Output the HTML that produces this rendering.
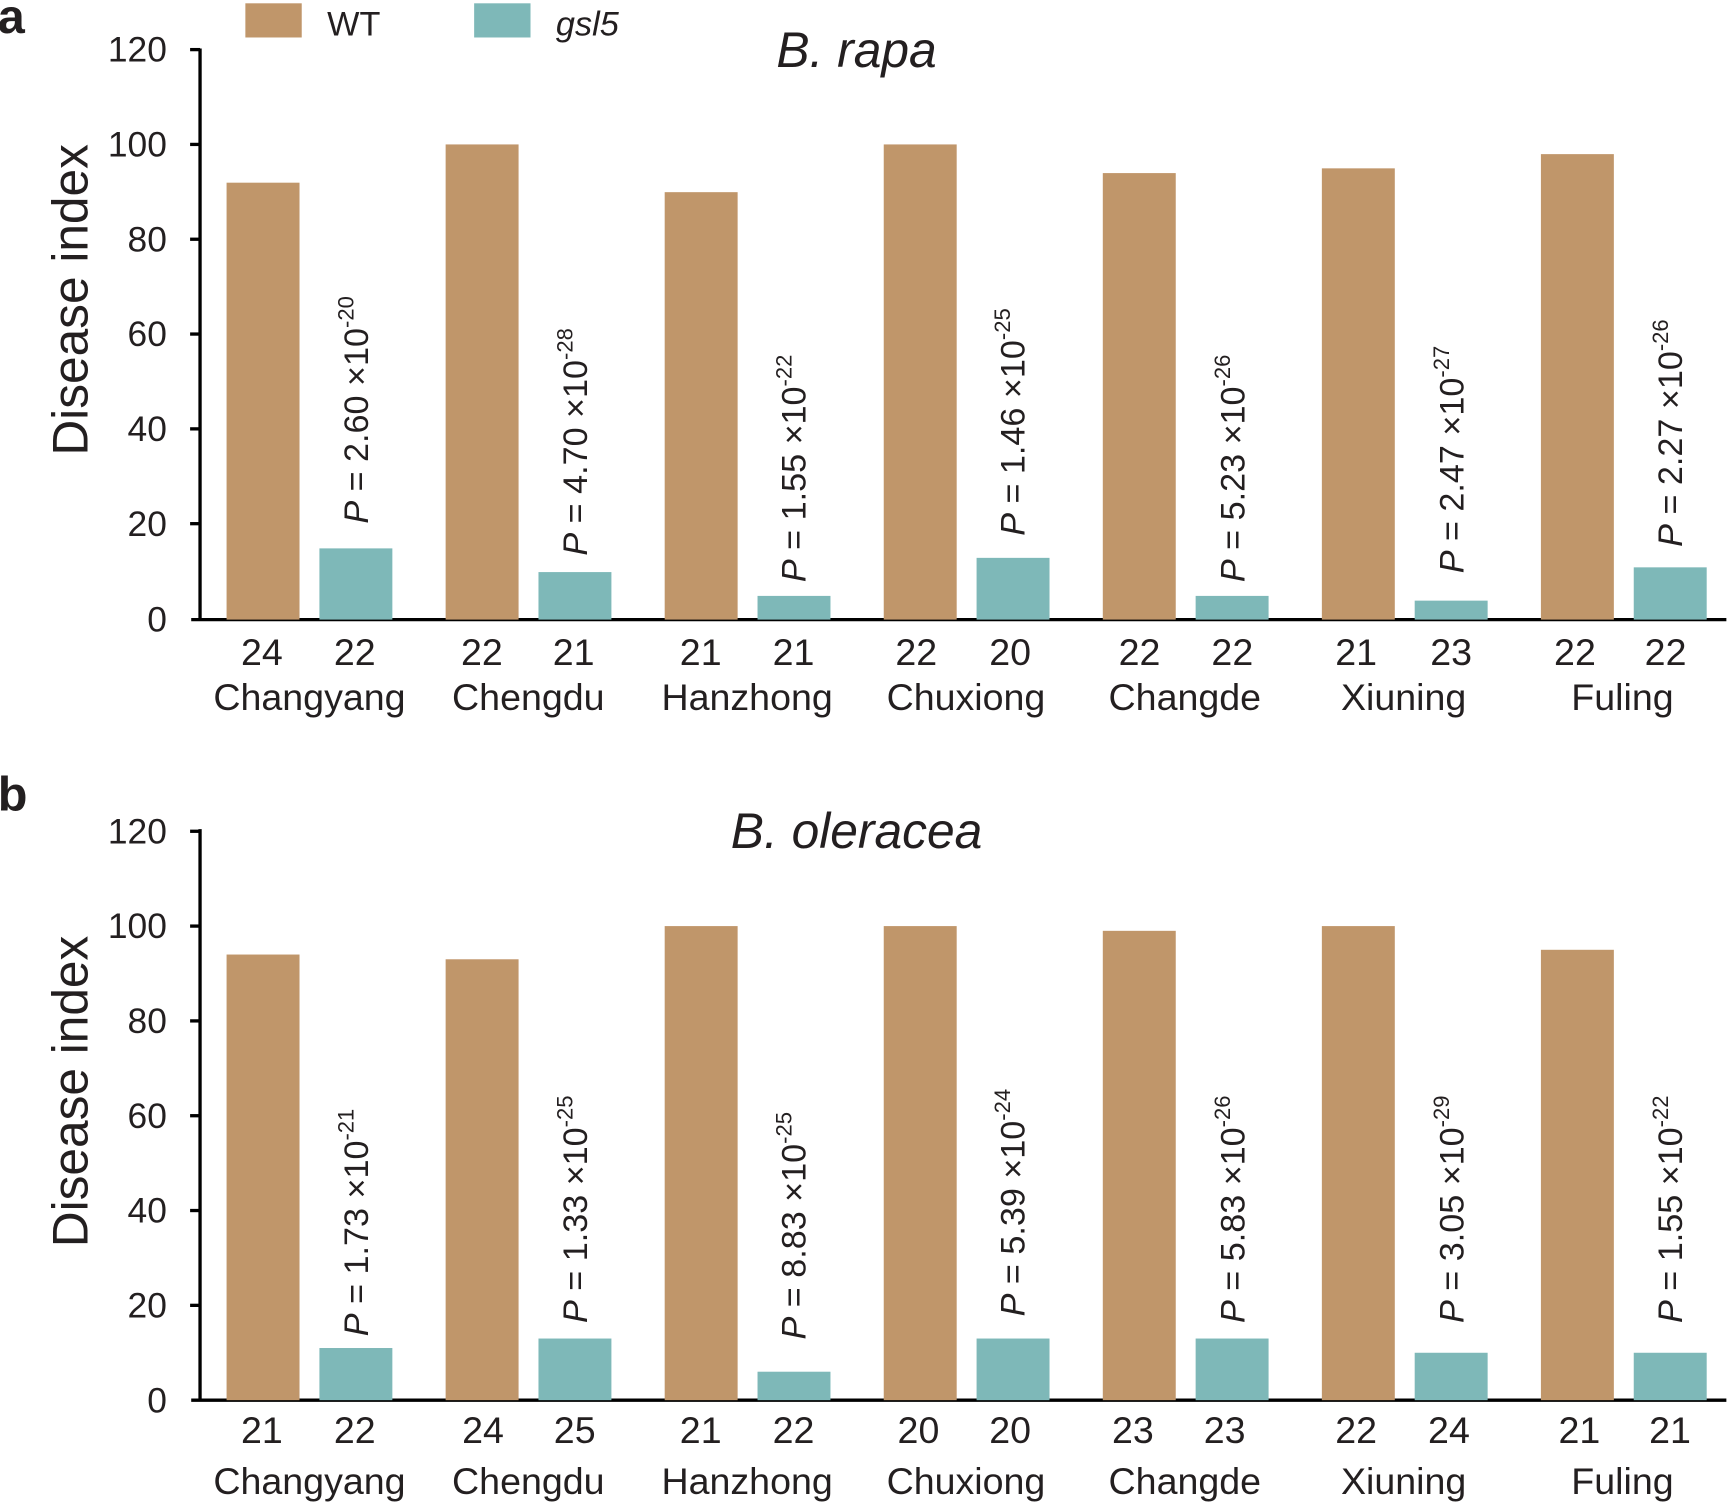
<!DOCTYPE html>
<html><head><meta charset="utf-8"><style>
html,body{margin:0;padding:0;background:#fff}
svg{display:block}
text{font-family:"Liberation Sans",Arial,sans-serif;fill:#231f20}
.t{font-size:32px}
.p{font-size:31px}
.s{font-size:20px}
.c{font-size:34px;text-anchor:middle}
</style></head><body>
<svg width="1733" height="1506" viewBox="0 0 1568 1366" preserveAspectRatio="none" xmlns="http://www.w3.org/2000/svg">
<text x="-2" y="30" style="font-size:44px;font-weight:bold">a</text>
<text x="-2" y="735" style="font-size:44px;font-weight:bold">b</text>
<rect x="222" y="3" width="51" height="31" fill="#c0966a"/>
<text x="296" y="32" style="font-size:31px">WT</text>
<rect x="429" y="3" width="51" height="31" fill="#7eb8b8"/>
<text x="503" y="32" style="font-size:31px;font-style:italic">gsl5</text>
<text x="775" y="61" style="font-size:45px;font-style:italic;text-anchor:middle">B. rapa</text>
<text x="775" y="769" style="font-size:45px;font-style:italic;text-anchor:middle">B. oleracea</text>
<text transform="translate(79,272) rotate(-90)" style="font-size:45px;text-anchor:middle">Disease index</text>
<text transform="translate(79,990) rotate(-90)" style="font-size:45px;text-anchor:middle">Disease index</text>

<g stroke="#000" stroke-width="3" fill="none">
<line x1="181" y1="44" x2="181" y2="563"/>
<line x1="173" y1="562" x2="1562" y2="562"/>
<line x1="172" y1="45" x2="181" y2="45"/><line x1="172" y1="131" x2="181" y2="131"/><line x1="172" y1="217" x2="181" y2="217"/><line x1="172" y1="303" x2="181" y2="303"/><line x1="172" y1="389" x2="181" y2="389"/><line x1="172" y1="475" x2="181" y2="475"/>
<line x1="181" y1="752" x2="181" y2="1271"/>
<line x1="173" y1="1270" x2="1562" y2="1270"/>
<line x1="172" y1="754" x2="181" y2="754"/><line x1="172" y1="840" x2="181" y2="840"/><line x1="172" y1="926" x2="181" y2="926"/><line x1="172" y1="1012" x2="181" y2="1012"/><line x1="172" y1="1098" x2="181" y2="1098"/><line x1="172" y1="1184" x2="181" y2="1184"/>
</g>
<g class="t" style="text-anchor:end">
<text x="151" y="56">120</text><text x="151" y="142">100</text><text x="151" y="228">80</text><text x="151" y="314">60</text><text x="151" y="400">40</text><text x="151" y="486">20</text><text x="151" y="573">0</text>
<text x="151" y="765">120</text><text x="151" y="851">100</text><text x="151" y="937">80</text><text x="151" y="1023">60</text><text x="151" y="1109">40</text><text x="151" y="1195">20</text><text x="151" y="1281">0</text>
</g>

<g fill="#c0966a">
<rect x="205" y="165.7" width="66" height="396.3"/>
<rect x="403.2" y="131" width="66" height="431"/>
<rect x="601.4" y="174.3" width="66" height="387.7"/>
<rect x="799.6" y="131" width="66" height="431"/>
<rect x="997.8" y="157" width="66" height="405"/>
<rect x="1196" y="152.7" width="66" height="409.3"/>
<rect x="1394.2" y="139.8" width="66" height="422.2"/>
</g>
<g fill="#7eb8b8">
<rect x="289" y="497.4" width="66" height="64.6"/>
<rect x="487.2" y="518.9" width="66" height="43.1"/>
<rect x="685.4" y="540.5" width="66" height="21.5"/>
<rect x="883.6" y="506" width="66" height="56"/>
<rect x="1081.8" y="540.5" width="66" height="21.5"/>
<rect x="1280" y="544.8" width="66" height="17.2"/>
<rect x="1478.2" y="514.6" width="66" height="47.4"/>
</g>
<g class="p">
<text transform="translate(333,475) rotate(-90)"><tspan font-style="italic">P</tspan> = 2.60 ×10<tspan class="s" dy="-13">-20</tspan></text>
<text transform="translate(531,504) rotate(-90)"><tspan font-style="italic">P</tspan> = 4.70 ×10<tspan class="s" dy="-13">-28</tspan></text>
<text transform="translate(729,528) rotate(-90)"><tspan font-style="italic">P</tspan> = 1.55 ×10<tspan class="s" dy="-13">-22</tspan></text>
<text transform="translate(927,486) rotate(-90)"><tspan font-style="italic">P</tspan> = 1.46 ×10<tspan class="s" dy="-13">-25</tspan></text>
<text transform="translate(1126,528) rotate(-90)"><tspan font-style="italic">P</tspan> = 5.23 ×10<tspan class="s" dy="-13">-26</tspan></text>
<text transform="translate(1324,520) rotate(-90)"><tspan font-style="italic">P</tspan> = 2.47 ×10<tspan class="s" dy="-13">-27</tspan></text>
<text transform="translate(1522,496) rotate(-90)"><tspan font-style="italic">P</tspan> = 2.27 ×10<tspan class="s" dy="-13">-26</tspan></text>
</g>
<g class="c">
<text x="237" y="603">24</text><text x="321" y="603">22</text>
<text x="436" y="603">22</text><text x="519" y="603">21</text>
<text x="634" y="603">21</text><text x="718" y="603">21</text>
<text x="829" y="603">22</text><text x="914" y="603">20</text>
<text x="1031" y="603">22</text><text x="1115" y="603">22</text>
<text x="1227" y="603">21</text><text x="1313" y="603">23</text>
<text x="1425" y="603">22</text><text x="1507" y="603">22</text>
<text x="280" y="644">Changyang</text>
<text x="478" y="644">Chengdu</text>
<text x="676" y="644">Hanzhong</text>
<text x="874" y="644">Chuxiong</text>
<text x="1072" y="644">Changde</text>
<text x="1270" y="644">Xiuning</text>
<text x="1468" y="644">Fuling</text>
</g>

<g fill="#c0966a">
<rect x="205" y="865.8" width="66" height="404.2"/>
<rect x="403.2" y="870.1" width="66" height="399.9"/>
<rect x="601.4" y="840" width="66" height="430"/>
<rect x="799.6" y="840" width="66" height="430"/>
<rect x="997.8" y="844.3" width="66" height="425.7"/>
<rect x="1196" y="840" width="66" height="430"/>
<rect x="1394.2" y="861.5" width="66" height="408.5"/>
</g>
<g fill="#7eb8b8">
<rect x="289" y="1222.7" width="66" height="47.3"/>
<rect x="487.2" y="1214.1" width="66" height="55.9"/>
<rect x="685.4" y="1244.2" width="66" height="25.8"/>
<rect x="883.6" y="1214.1" width="66" height="55.9"/>
<rect x="1081.8" y="1214.1" width="66" height="55.9"/>
<rect x="1280" y="1227" width="66" height="43"/>
<rect x="1478.2" y="1227" width="66" height="43"/>
</g>
<g class="p">
<text transform="translate(333,1212) rotate(-90)"><tspan font-style="italic">P</tspan> = 1.73 ×10<tspan class="s" dy="-13">-21</tspan></text>
<text transform="translate(531,1200) rotate(-90)"><tspan font-style="italic">P</tspan> = 1.33 ×10<tspan class="s" dy="-13">-25</tspan></text>
<text transform="translate(729,1215) rotate(-90)"><tspan font-style="italic">P</tspan> = 8.83 ×10<tspan class="s" dy="-13">-25</tspan></text>
<text transform="translate(927,1194) rotate(-90)"><tspan font-style="italic">P</tspan> = 5.39 ×10<tspan class="s" dy="-13">-24</tspan></text>
<text transform="translate(1126,1200) rotate(-90)"><tspan font-style="italic">P</tspan> = 5.83 ×10<tspan class="s" dy="-13">-26</tspan></text>
<text transform="translate(1324,1200) rotate(-90)"><tspan font-style="italic">P</tspan> = 3.05 ×10<tspan class="s" dy="-13">-29</tspan></text>
<text transform="translate(1522,1200) rotate(-90)"><tspan font-style="italic">P</tspan> = 1.55 ×10<tspan class="s" dy="-13">-22</tspan></text>
</g>
<g class="c">
<text x="237" y="1309">21</text><text x="321" y="1309">22</text>
<text x="437" y="1309">24</text><text x="520" y="1309">25</text>
<text x="634" y="1309">21</text><text x="718" y="1309">22</text>
<text x="831" y="1309">20</text><text x="914" y="1309">20</text>
<text x="1025" y="1309">23</text><text x="1108" y="1309">23</text>
<text x="1227" y="1309">22</text><text x="1311" y="1309">24</text>
<text x="1429" y="1309">21</text><text x="1511" y="1309">21</text>
<text x="280" y="1355">Changyang</text>
<text x="478" y="1355">Chengdu</text>
<text x="676" y="1355">Hanzhong</text>
<text x="874" y="1355">Chuxiong</text>
<text x="1072" y="1355">Changde</text>
<text x="1270" y="1355">Xiuning</text>
<text x="1468" y="1355">Fuling</text>
</g>
</svg>
</body></html>
